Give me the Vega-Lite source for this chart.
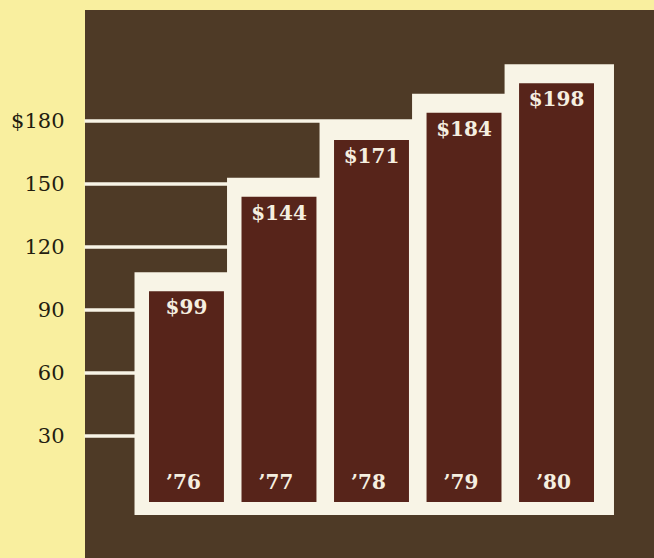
{
  "$schema": "https://vega.github.io/schema/vega-lite/v6.json",
  "width": 569,
  "height": 548,
  "autosize": "none",
  "padding": {"left": 85, "top": 10, "right": 0, "bottom": 0},
  "background": "#f9ef9f",
  "view": {"fill": "#4e3a26", "stroke": null},
  "config": {"font": "DejaVu Serif"},
  "data": {
    "values": [
      {"year": "’76", "value": 99},
      {"year": "’77", "value": 144},
      {"year": "’78", "value": 171},
      {"year": "’79", "value": 184},
      {"year": "’80", "value": 198}
    ]
  },
  "encoding": {
    "x": {
      "field": "year",
      "type": "nominal",
      "sort": null,
      "axis": null,
      "scale": {"domain": ["’76", "’77", "’78", "’79", "’80"], "range": [64, 509], "paddingInner": 0.19, "paddingOuter": 0}
    }
  },
  "layer": [
    {
      "data": {"values": [{"g": 30}, {"g": 60}, {"g": 90}, {"g": 120}, {"g": 150}, {"g": 180}]},
      "mark": {"type": "rule", "color": "#f8f4e6", "strokeWidth": 3.5},
      "encoding": {
        "x": {"datum": "’76", "bandPosition": -0.86},
        "x2": {"datum": "’80"},
        "y": {
          "field": "g",
          "type": "quantitative",
          "scale": {"domain": [-28.1, 232.9], "nice": false, "zero": false},
          "axis": {
            "values": [30, 60, 90, 120, 150, 180],
            "title": null,
            "domain": false,
            "ticks": false,
            "tickSize": 0,
            "grid": false,
            "labelPadding": 21,
            "labelFont": "DejaVu Serif",
            "labelFontSize": 21,
            "labelColor": "#231d10",
            "labelExpr": "datum.value == 180 ? '$180' : datum.label"
          }
        }
      }
    },
    {
      "mark": {"type": "bar", "color": "#f8f4e6", "width": {"band": 1.46}, "xOffset": 2.75, "yOffset": -19, "y2Offset": 16},
      "encoding": {
        "y": {"field": "value", "type": "quantitative"},
        "y2": {"datum": 0}
      }
    },
    {
      "mark": {"type": "bar", "color": "#57241a", "y2Offset": 3},
      "encoding": {
        "y": {"field": "value", "type": "quantitative"},
        "y2": {"datum": 0}
      }
    },
    {
      "mark": {"type": "text", "color": "#f5efe0", "fontWeight": "bold", "fontSize": 20, "baseline": "middle", "align": "center", "dy": 17},
      "encoding": {
        "y": {"field": "value", "type": "quantitative"},
        "text": {"field": "value", "type": "quantitative", "format": "$d"}
      }
    },
    {
      "mark": {"type": "text", "color": "#f5efe0", "fontWeight": "bold", "fontSize": 20, "baseline": "middle", "align": "center", "dy": -16, "dx": -3},
      "encoding": {
        "y": {"datum": 0},
        "text": {"field": "year", "type": "nominal"}
      }
    }
  ],
  "resolve": {"scale": {"y": "shared"}}
}
